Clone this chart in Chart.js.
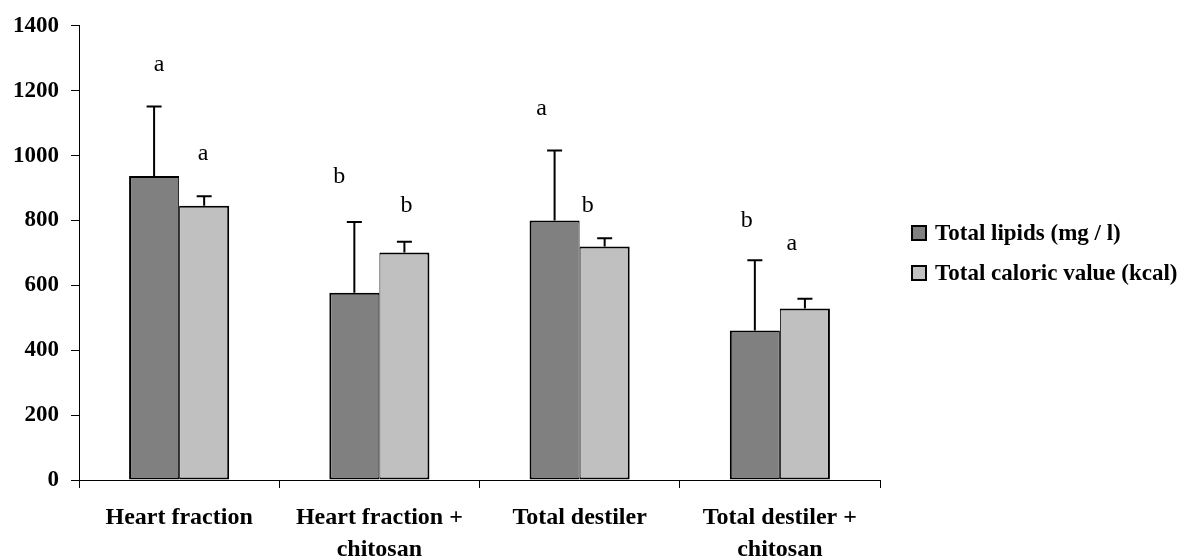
<!DOCTYPE html>
<html>
<head>
<meta charset="utf-8">
<script src="https://cdn.jsdelivr.net/npm/chart.js@4.4.1/dist/chart.umd.min.js"></script>
<style>
  html, body { margin: 0; padding: 0; background: #fff; }
  canvas { display: block; }
</style>
</head>
<body>
<canvas id="c" width="1198" height="558"></canvas>
<script>
const categories = [
  ['Heart fraction'],
  ['Heart fraction +', 'chitosan'],
  ['Total destiler'],
  ['Total destiler +', 'chitosan']
];
const seriesNames = ['Total lipids (mg / l)', 'Total caloric value (kcal)'];
const lipids = [937, 577, 800, 461];
const lipidsErr = [214, 218, 216, 216];
const caloric = [845, 701, 720, 529];
const caloricErr = [30, 33, 25, 30];
const lipidsLetters = ['a', 'b', 'a', 'b'];
const lipidsLetterY = [1280, 935, 1144, 798];
const lipidsLetterX = [-0.10, -0.20, -0.19, -0.165];
const caloricLetters = ['a', 'b', 'b', 'a'];
const caloricLetterY = [1006, 844, 846, 728];
const caloricLetterX = [0.12, 0.135, 0.04, 0.06];
const yTicks = [0, 200, 400, 600, 800, 1000, 1200, 1400];

const FONT = '"Liberation Serif", "Times New Roman", serif';
const colors = ['#808080', '#C0C0C0'];

const errorBars = {
  id: 'errorBars',
  afterDatasetsDraw(chart) {
    const ctx = chart.ctx;
    const y = chart.scales.y;
    const errs = [lipidsErr, caloricErr];
    chart.data.datasets.forEach((ds, i) => {
      const meta = chart.getDatasetMeta(i);
      meta.data.forEach((bar, j) => {
        const top = y.getPixelForValue(ds.data[j]);
        const end = y.getPixelForValue(ds.data[j] + errs[i][j]);
        ctx.save();
        ctx.strokeStyle = '#000';
        ctx.lineWidth = 2;
        ctx.beginPath();
        ctx.moveTo(bar.x, top);
        ctx.lineTo(bar.x, end);
        ctx.moveTo(bar.x - 7.5, end);
        ctx.lineTo(bar.x + 7.5, end);
        ctx.stroke();
        ctx.restore();
      });
    });
  }
};

const letterMarks = {
  id: 'letterMarks',
  afterDatasetsDraw(chart) {
    const ctx = chart.ctx;
    const x = chart.scales.x, y = chart.scales.y;
    const sets = [
      [lipidsLetters, lipidsLetterY, lipidsLetterX],
      [caloricLetters, caloricLetterY, caloricLetterX]
    ];
    ctx.save();
    ctx.fillStyle = '#000';
    ctx.font = '24px ' + FONT;
    ctx.textAlign = 'center';
    ctx.textBaseline = 'middle';
    sets.forEach(([txt, ys, xs]) => {
      txt.forEach((t, j) => {
        ctx.fillText(t, x.getPixelForValue(j + xs[j]), y.getPixelForValue(ys[j]));
      });
    });
    ctx.restore();
  }
};

const sideLegend = {
  id: 'sideLegend',
  afterDraw(chart) {
    const ctx = chart.ctx;
    ctx.save();
    ctx.font = 'bold 23px ' + FONT;
    ctx.textBaseline = 'middle';
    ctx.textAlign = 'left';
    chart.data.datasets.forEach((ds, i) => {
      const cy = 233 + i * 40;
      ctx.fillStyle = ds.backgroundColor;
      ctx.fillRect(912, cy - 7, 14, 14);
      ctx.strokeStyle = '#000';
      ctx.lineWidth = 2;
      ctx.strokeRect(912, cy - 7, 14, 14);
      ctx.fillStyle = '#000';
      ctx.fillText(ds.label, 935, cy + 1);
    });
    ctx.restore();
  }
};

new Chart(document.getElementById('c'), {
  type: 'bar',
  data: {
    labels: categories,
    datasets: [
      {
        label: seriesNames[0],
        data: lipids,
        backgroundColor: colors[0],
        borderColor: '#000',
        borderWidth: { top: 2, left: 2, right: 1, bottom: 2 },
        borderSkipped: false
      },
      {
        label: seriesNames[1],
        data: caloric,
        backgroundColor: colors[1],
        borderColor: '#000',
        borderWidth: { top: 2, left: 1, right: 2, bottom: 2 },
        borderSkipped: false
      }
    ]
  },
  options: {
    responsive: false,
    animation: false,
    devicePixelRatio: 1,
    layout: { padding: { left: 0, right: 318, top: 24, bottom: 0 } },
    categoryPercentage: 0.5,
    barPercentage: 1.0,
    plugins: {
      legend: { display: false },
      tooltip: { enabled: false }
    },
    scales: {
      x: {
        offset: true,
        afterFit(s) { s.height = 78; },
        grid: {
          offset: true,
          drawOnChartArea: false,
          drawTicks: true,
          tickLength: 8,
          color: '#000',
          lineWidth: 1
        },
        border: { display: true, color: '#000', width: 1 },
        ticks: {
          color: '#000',
          padding: 13,
          maxRotation: 0,
          autoSkip: false,
          font: { family: FONT, size: 24, weight: 'bold', lineHeight: 1.36 }
        }
      },
      y: {
        min: 0,
        max: 1400,
        afterFit(s) { s.width = 79; },
        afterBuildTicks(s) { s.ticks = yTicks.map(v => ({ value: v })); },
        grid: {
          drawOnChartArea: false,
          drawTicks: true,
          tickLength: 8,
          color: '#000',
          lineWidth: 1
        },
        border: { display: true, color: '#000', width: 1 },
        ticks: {
          color: '#000',
          padding: 12,
          callback: (v) => String(v),
          font: { family: FONT, size: 23, weight: 'bold' }
        }
      }
    }
  },
  plugins: [errorBars, letterMarks, sideLegend]
});
</script>
</body>
</html>
